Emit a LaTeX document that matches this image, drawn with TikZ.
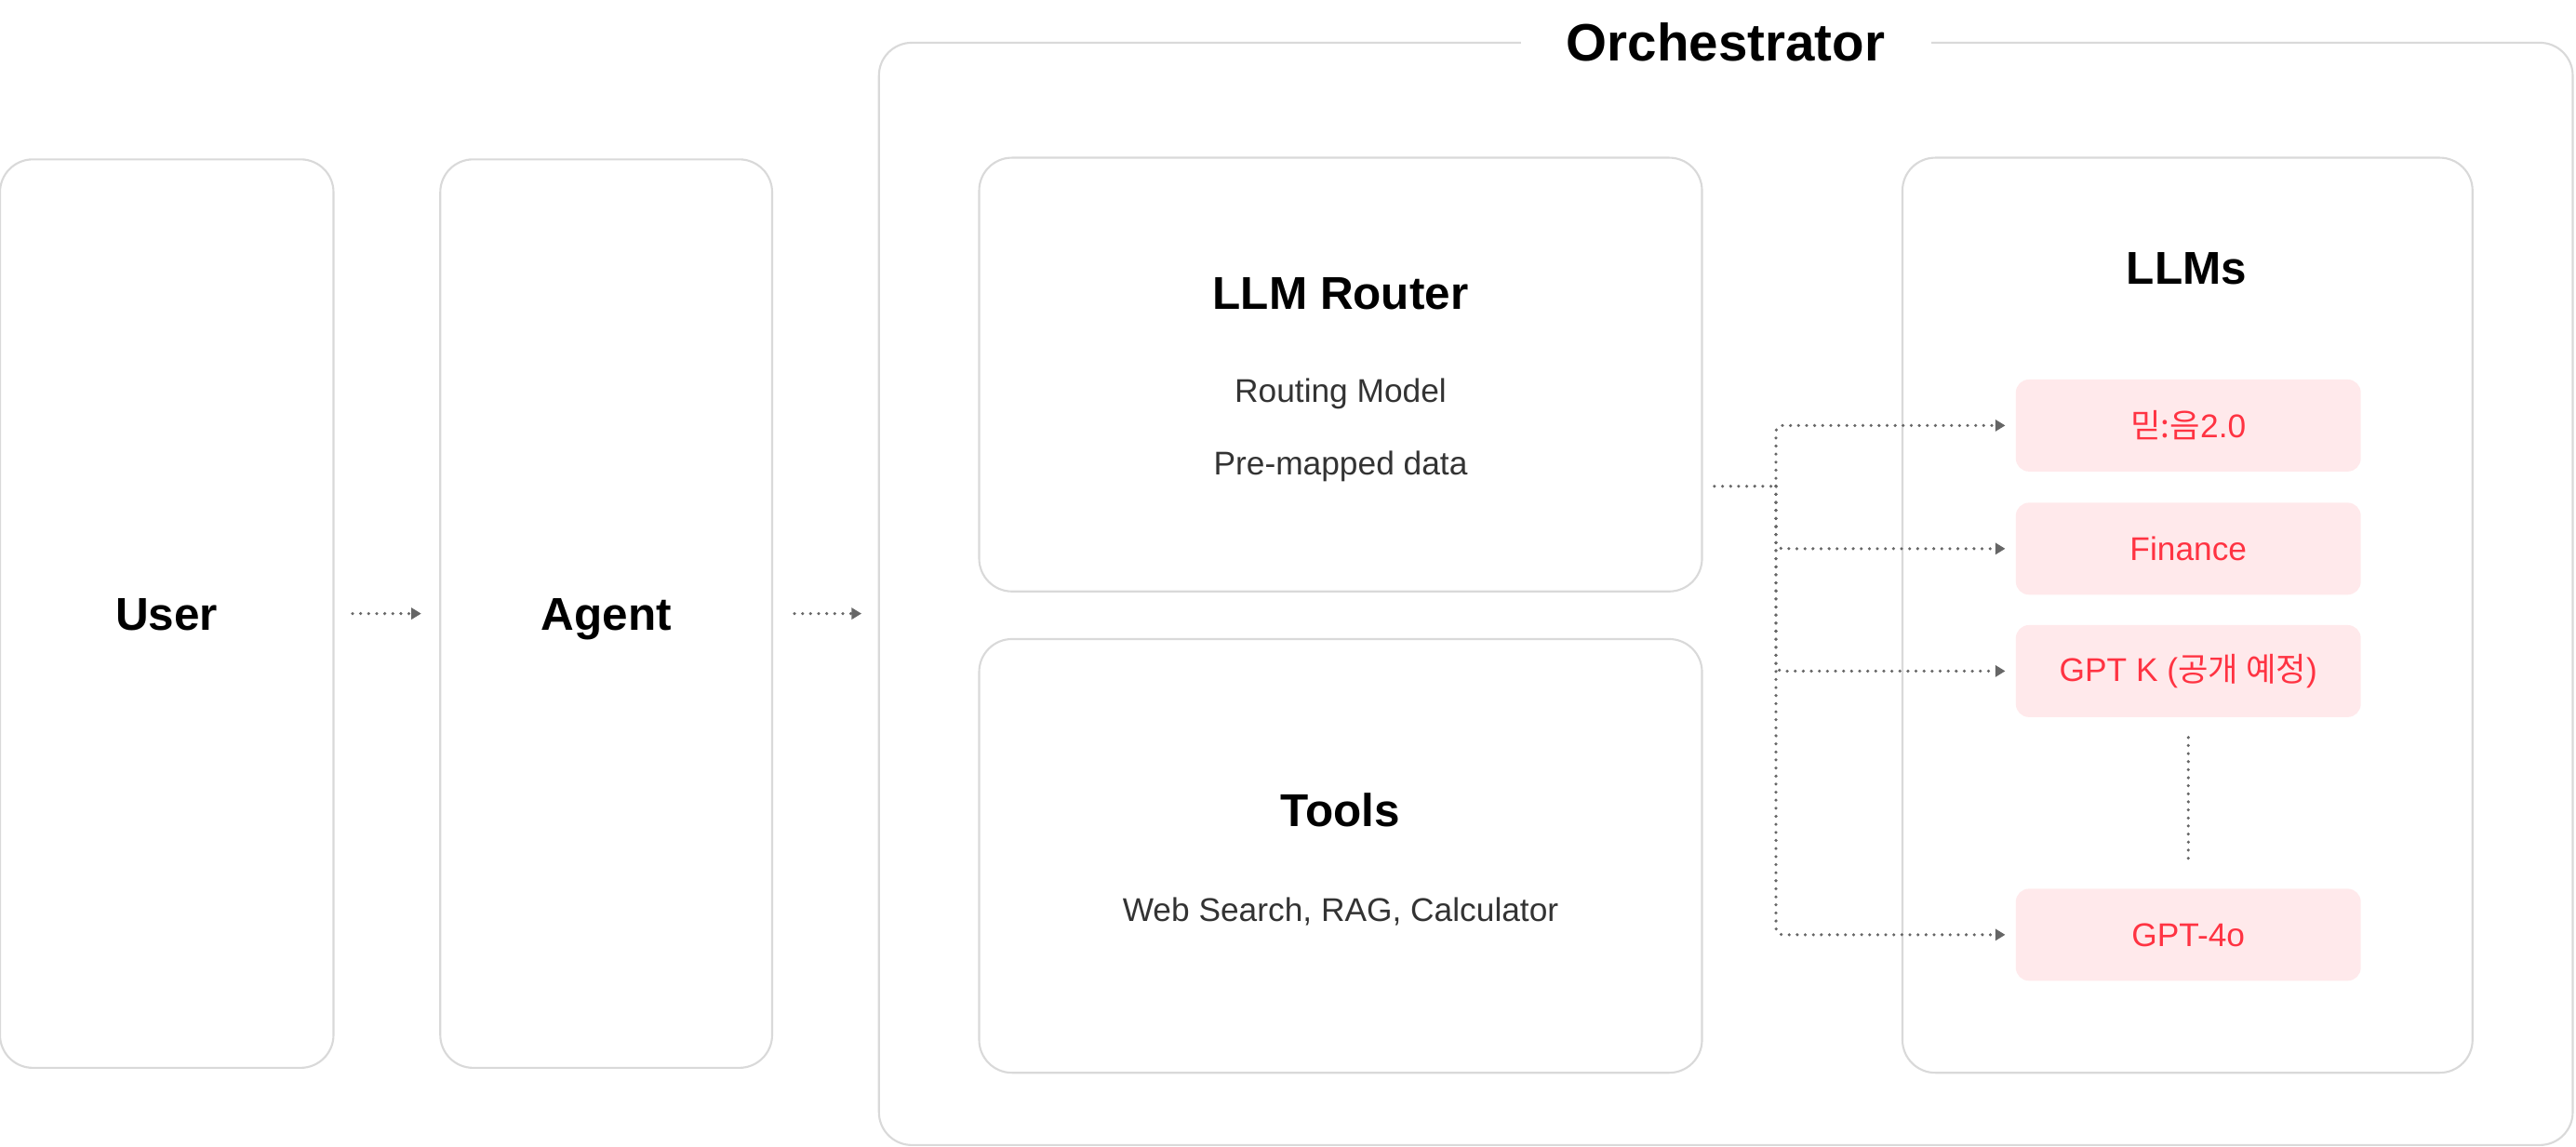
\documentclass[tikz,border=0pt]{standalone}
\usepackage{fontspec}
\setmainfont{Liberation Sans}
\newfontfamily\kr{Noto Sans CJK KR}
\usepackage{xcolor}
\usepackage{tikz}
\usetikzlibrary{positioning, arrows.meta, calc}

\definecolor{boxline}{HTML}{D9D9D9}
\definecolor{flowgray}{HTML}{666666}
\definecolor{llmred}{HTML}{FF3342}
\definecolor{llmfill}{HTML}{FFE9EB}
\definecolor{bodytext}{HTML}{333333}

\begin{document}
\begin{tikzpicture}[x=0.5pt, y=-0.5pt,
        panel/.style={draw=boxline, line width=0.6pt, rounded corners=10pt, inner sep=0pt},
        title/.style={font=\fontsize{14}{16}\selectfont\bfseries, text=black, text height=10pt, text depth=0pt},
        body/.style={font=\fontsize{10}{12}\selectfont, text=bodytext},
        llm/.style={fill=llmfill, rounded corners=4pt, minimum width=105pt, minimum height=28pt, text=llmred, font=\fontsize{10}{12}\selectfont},
        flow/.style={draw=flowgray, line width=1pt, line cap=round, dash pattern=on 0pt off 2.45pt, -{Triangle[length=3pt,width=3.4pt]}}]
        \useasboundingbox (0,0) rectangle (1568,698);

        % User and agent
        \node[panel, title, minimum width=101.5pt, minimum height=276.5pt] (user) at (101.5,373.5) {User};
        \node[panel, title, minimum width=101pt, minimum height=276.5pt] (agent) at (369,373.5) {Agent};

        % Orchestrator frame
        \node[panel, minimum width=515.5pt, minimum height=335.5pt] (orch) at (1050.5,361.5) {};
        \node[fill=white, inner xsep=14pt, inner ysep=2pt, font=\fontsize{16}{18}\selectfont\bfseries] (orchtitle) at (orch.north) {Orchestrator};

        % Router and tools
        \node[panel, minimum width=220pt, minimum height=132pt] (router) at (816,228) {};
        \node[title] (routertitle) at (816,178) {LLM Router};
        \node[body] (routing) at (816,240) {Routing Model};
        \node[body] (premapped) at (816,284) {Pre-mapped data};

        \node[panel, minimum width=220pt, minimum height=132pt] (tools) at (816,521) {};
        \node[title] (toolstitle) at (816,493) {Tools};
        \node[body] (toollist) at (816,555) {Web Search, RAG, Calculator};

        % LLMs
        \node[panel, minimum width=173.5pt, minimum height=278.5pt] (llms) at (1331.5,374.5) {};
        \node[title] (llmstitle) at (1331,163) {LLMs};
        \foreach \name/\y/\txt in {m1/259/{{\kr 믿:음}2.0}, m2/334/{Finance}, m3/408.5/{GPT K ({\kr 공개 예정})}, m4/569/{GPT-4o}} {
            \node[llm] (\name) at (1332,\y) {\txt};
        }

        % Connectors
        \draw[flow, shorten <=5.5pt, shorten >=5.5pt] (user) -- (agent);
        \draw[flow, shorten <=6.5pt, shorten >=5pt] (agent.east) -- (agent.east -| orch.west);

        \coordinate (split) at (1081,296);
        \draw[flow, -, shorten <=3.5pt] (router.east |- split) -- (split);
        \foreach \m in {m1, m2, m3, m4} {
            \draw[flow, rounded corners=2pt, shorten >=3pt] (split) |- (\m);
        }
        \draw[flow, -, shorten <=6pt, shorten >=7pt] (m3) -- (m4);

    \end{tikzpicture}
\end{document}
